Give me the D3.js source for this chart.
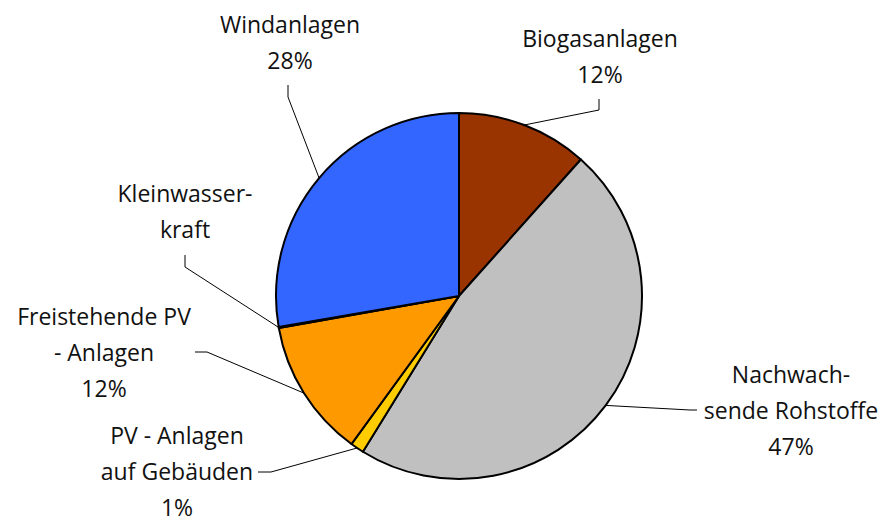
<!DOCTYPE html>
<html>
<head>
<meta charset="utf-8">
<script src="https://cdn.jsdelivr.net/npm/d3@7"></script>
<style>
  body { margin: 0; background: #fff; }
  text { font-family: "Open Sans", "Noto Sans", sans-serif; font-size: 23px; fill: #111; }
</style>
</head>
<body>
<div id="container"></div>
<script>
// chart size
let w = 882;
let h = 519;

// slices, clockwise from 12 o'clock
let categories = ["Biogasanlagen", "Nachwachsende Rohstoffe", "PV - Anlagen auf Gebäuden",
                  "Freistehende PV - Anlagen", "Kleinwasserkraft", "Windanlagen"];
let shares = [11.6, 47.2, 1.2, 12.2, 0.1, 27.7];
let colors = ["#993300", "#C0C0C0", "#FFCC00", "#FF9900", "#339966", "#3366FF"];

// label text lines as printed (percent is added below)
let labelLines = [
  ["Biogasanlagen"],
  ["Nachwach-", "sende Rohstoffe"],
  ["PV - Anlagen", "auf Gebäuden"],
  ["Freistehende PV", "- Anlagen"],
  ["Kleinwasser-", "kraft"],
  ["Windanlagen"]
];

// label placement: text centre x, first baseline, leader start and elbow
let labelLayout = [
  { x: 600, y: 47,  from: [599, 99],  elbow: [599, 110] },
  { x: 791, y: 383, from: [697, 410], elbow: [690, 410] },
  { x: 177, y: 444, from: [258, 472], elbow: [271, 472] },
  { x: 104, y: 325, from: [195, 352], elbow: [207, 352] },
  { x: 185, y: 202, from: [185, 255], elbow: [185, 267] },
  { x: 290, y: 33,  from: [288, 85],  elbow: [288, 97] }
];

let cx = 459, cy = 296, r = 183;
let lineGap = 36;

let svg = d3.select("#container")
  .append("svg")
  .attr("width", w)
  .attr("height", h);

let pie = d3.pie().sort(null).value(d => d);
let arcs = pie(shares);

let arc = d3.arc().innerRadius(0).outerRadius(r);

let pieG = svg.append("g")
  .attr("transform", "translate(" + cx + "," + cy + ")");

pieG.selectAll("path")
  .data(arcs)
  .enter()
  .append("path")
    .attr("d", arc)
    .style("fill", (d, i) => colors[i])
    .style("stroke", "#000")
    .style("stroke-width", 2)
    .style("stroke-linejoin", "round");

// leader lines end on the rim at the middle angle of each slice
let lineG = svg.append("g");
arcs.forEach(function(d, i) {
  let a = (d.startAngle + d.endAngle) / 2;
  let edge = [cx + r * Math.sin(a), cy - r * Math.cos(a)];
  let L = labelLayout[i];
  lineG.append("path")
    .attr("d", d3.line()([L.from, L.elbow, edge]))
    .style("fill", "none")
    .style("stroke", "#000")
    .style("stroke-width", 1);
});

let fmt = d3.format(".0f");
let textG = svg.append("g");
labelLines.forEach(function(lines, i) {
  let all = lines.slice();
  if (shares[i] >= 0.5) all.push(fmt(shares[i]) + "%");
  let t = textG.append("text")
    .attr("text-anchor", "middle");
  all.forEach(function(s, k) {
    t.append("tspan")
      .attr("x", labelLayout[i].x)
      .attr("y", labelLayout[i].y + k * lineGap)
      .text(s);
  });
});
</script>
</body>
</html>
